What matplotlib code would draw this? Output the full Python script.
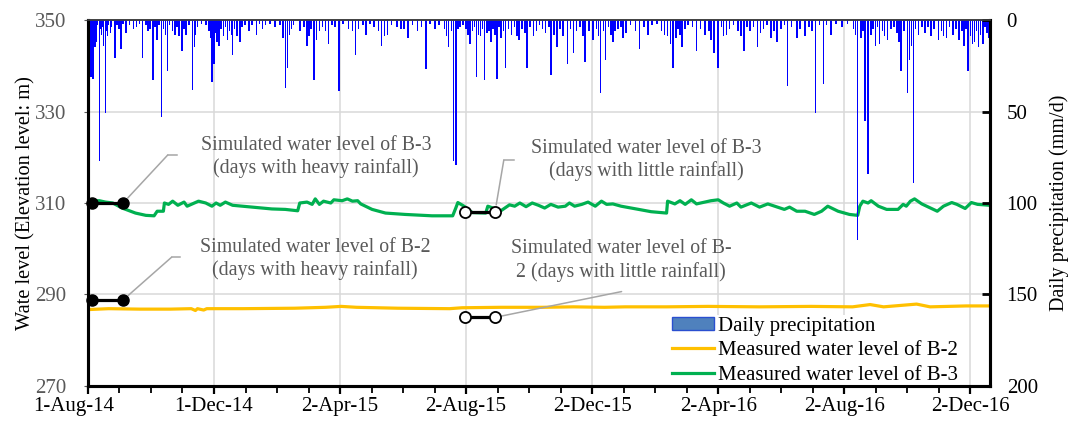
import matplotlib
matplotlib.use("Agg")
import matplotlib.pyplot as plt
import matplotlib.dates as mdates
from matplotlib.patches import Patch
from matplotlib.lines import Line2D
from matplotlib.ticker import FixedLocator, FuncFormatter
import pandas as pd

plt.rcParams["font.family"] = ["Liberation Serif", "DejaVu Serif"]

start = pd.Timestamp("2014-08-01")
n_days = 873  # x range in days from start

# daily precipitation (day after 1-Aug-14, mm/d) - larger events
rain_large = [
    (1, 65), (3, 31), (5, 32), (7, 15), (11, 77), (15, 14), (17, 51), (19, 9),
    (26, 21), (32, 16), (37, 7), (44, 5), (53, 21), (60, 5), (63, 33), (67, 11),
    (71, 53), (75, 8), (77, 28), (84, 8), (91, 17), (95, 8), (101, 38), (103, 15),
    (104, 8), (120, 34), (122, 24), (125, 12), (140, 19), (147, 12), (163, 8),
    (169, 5), (191, 37), (193, 26), (195, 8), (212, 14), (219, 33), (224, 6),
    (233, 13), (243, 39), (259, 19), (269, 8), (284, 14), (290, 8), (303, 5),
    (310, 10), (327, 27), (336, 5), (349, 15), (352, 6), (354, 77), (356, 79),
    (358, 5), (372, 6), (376, 31), (378, 8), (384, 33), (388, 6), (396, 32),
    (404, 26), (410, 8), (417, 11), (425, 26), (448, 30), (454, 15), (464, 24),
    (470, 18), (481, 23), (489, 11), (496, 40), (501, 22), (506, 8), (510, 6),
    (518, 10), (534, 16), (542, 8), (558, 8), (564, 13), (566, 26), (575, 15),
    (589, 17), (597, 8), (606, 18), (610, 26), (618, 8), (635, 17), (648, 15),
    (661, 10), (667, 12), (677, 36), (686, 10), (694, 9), (704, 51), (712, 35),
    (719, 8), (730, 4), (745, 120), (752, 55), (755, 84), (758, 8), (766, 13),
    (774, 11), (787, 28), (793, 40), (795, 22), (799, 89), (804, 8), (823, 11),
    (831, 10), (848, 14), (852, 28), (856, 13), (866, 13),
]

# daily precipitation - small events
rain_small = [
    (2, 6), (4, 9), (6, 4), (8, 12), (9, 3), (12, 5), (13, 8), (14, 4), (18, 6),
    (20, 3), (22, 7), (23, 4), (28, 3), (30, 5), (34, 2), (40, 3), (47, 4), (50, 2),
    (56, 3), (58, 6), (65, 4), (69, 3), (73, 5), (79, 3), (82, 6), (86, 4), (88, 9),
    (93, 5), (98, 3), (106, 4), (110, 2), (114, 3), (117, 6), (119, 10), (124, 7),
    (127, 14), (129, 5), (131, 9), (133, 4), (135, 11), (137, 6), (139, 8), (142, 5),
    (144, 9), (149, 4), (152, 3), (156, 6), (159, 3), (166, 2), (172, 3), (176, 2),
    (181, 4), (186, 3), (189, 10), (197, 5), (199, 3), (205, 6), (209, 4), (214, 9),
    (216, 5), (221, 11), (227, 4), (230, 6), (236, 3), (239, 4), (247, 2), (252, 5),
    (256, 6), (262, 5), (266, 3), (273, 2), (277, 4), (281, 6), (287, 9), (294, 3),
    (299, 4), (306, 5), (314, 3), (319, 6), (323, 4), (331, 2), (340, 3), (345, 5),
    (347, 9), (360, 4), (363, 3), (366, 5), (368, 8), (370, 13), (374, 4), (380, 9),
    (382, 5), (386, 7), (390, 12), (392, 5), (394, 8), (398, 4), (400, 10), (402, 6),
    (407, 5), (413, 4), (415, 9), (420, 5), (423, 7), (428, 4), (431, 9), (434, 6),
    (437, 3), (440, 5), (443, 7), (446, 4), (451, 8), (457, 5), (460, 9), (467, 5),
    (473, 6), (476, 4), (479, 9), (485, 6), (492, 5), (494, 9), (499, 6), (504, 4),
    (508, 12), (513, 5), (516, 4), (521, 7), (525, 3), (530, 6), (538, 4), (546, 3),
    (551, 2), (555, 6), (561, 9), (569, 10), (571, 5), (573, 8), (578, 5), (581, 3),
    (585, 4), (593, 5), (601, 6), (603, 11), (613, 4), (615, 9), (621, 5), (625, 3),
    (629, 6), (632, 9), (638, 4), (641, 6), (644, 4), (651, 7), (654, 5), (657, 3),
    (664, 6), (671, 5), (674, 3), (681, 4), (689, 5), (698, 4), (701, 6), (708, 3),
    (715, 3), (724, 2), (735, 2), (741, 5), (743, 8), (748, 10), (750, 6), (760, 5),
    (762, 14), (764, 4), (769, 6), (771, 9), (777, 5), (780, 4), (783, 7), (785, 12),
    (790, 6), (797, 14), (801, 5), (807, 4), (810, 7), (813, 4), (816, 9), (819, 5),
    (826, 6), (828, 9), (834, 4), (837, 8), (840, 5), (843, 11), (846, 6), (850, 5),
    (854, 9), (858, 12), (860, 6), (862, 15), (864, 8), (868, 4), (870, 7), (872, 10),
]

# measured water level of B-3 (day, m)
b3_level = [
    (0, 310.4), (11, 310.5), (17, 310.2), (24, 310.0), (33, 308.9), (46, 307.8),
    (56, 307.3), (64, 307.2), (67, 308.2), (73, 308.2), (74, 310.0), (78, 309.7),
    (82, 310.4), (87, 309.5), (93, 310.2), (96, 309.3), (103, 310.0), (107, 310.4),
    (114, 310.0), (120, 309.3), (124, 310.0), (128, 309.5), (133, 310.2),
    (140, 309.5), (159, 309.1), (178, 308.7), (191, 308.6), (203, 308.3),
    (205, 310.0), (212, 310.2), (217, 309.7), (220, 310.9), (224, 309.7),
    (228, 310.4), (235, 310.0), (238, 310.7), (246, 310.5), (251, 310.9),
    (256, 310.4), (261, 310.5), (264, 309.8), (275, 308.6), (288, 307.8),
    (307, 307.5), (333, 307.2), (353, 307.2), (356, 308.9), (358, 310.1),
    (364, 309.3), (372, 307.9), (385, 307.8), (387, 309.3), (392, 308.9),
    (399, 308.2), (408, 309.6), (413, 309.3), (418, 310.0), (424, 309.2),
    (430, 310.0), (436, 309.5), (442, 308.9), (448, 309.7), (455, 309.1),
    (462, 309.3), (466, 310.0), (471, 309.3), (478, 309.7), (484, 310.2),
    (491, 309.3), (497, 310.4), (502, 309.7), (508, 309.8), (516, 309.3),
    (533, 308.6), (545, 308.1), (560, 307.8), (561, 310.4), (568, 309.8),
    (573, 310.5), (578, 309.7), (584, 310.7), (589, 309.8), (597, 310.2),
    (603, 310.5), (610, 310.7), (615, 310.0), (621, 309.3), (628, 310.0),
    (632, 309.1), (642, 310.0), (650, 309.1), (658, 309.8), (674, 308.6),
    (679, 309.1), (686, 308.2), (694, 308.2), (703, 307.5), (710, 308.2),
    (716, 309.3), (726, 308.2), (737, 307.5), (745, 307.3), (747, 309.3),
    (750, 310.4), (755, 310.0), (758, 310.5), (765, 309.3), (773, 308.6),
    (784, 308.6), (789, 309.7), (792, 309.3), (796, 310.4), (800, 310.9),
    (807, 309.8), (822, 308.2), (828, 309.3), (836, 310.1), (841, 309.7),
    (849, 308.8), (855, 310.1), (861, 309.7), (873, 309.5),
]

# measured water level of B-2 (day, m)
b2_level = [
    (0, 286.7), (20, 286.9), (50, 286.8), (80, 286.8), (100, 286.9), (104, 286.5),
    (106, 286.9), (112, 286.6), (115, 286.9), (150, 286.9), (200, 287.0),
    (230, 287.2), (245, 287.4), (260, 287.2), (300, 287.0), (350, 286.9),
    (362, 287.1), (400, 287.2), (440, 287.2), (470, 287.3), (500, 287.2),
    (520, 287.3), (560, 287.3), (600, 287.4), (650, 287.3), (700, 287.4),
    (740, 287.3), (757, 287.8), (770, 287.3), (802, 287.9), (815, 287.3),
    (850, 287.5), (873, 287.5),
]

# simulated water levels (two days each)
sim_heavy_days = [4, 34]
sim_little_days = [365, 394]
sim_b3_heavy = 310.0
sim_b2_heavy = 288.8
sim_b3_little = 308.1
sim_b2_little = 285.0

x_ticks_days = [0, 122, 244, 366, 488, 610, 732, 854]
y_left_ticks = [270, 290, 310, 330, 350]
y_right_ticks = [0, 50, 100, 150, 200]


def day_num(days):
    return mdates.date2num([start + pd.Timedelta(days=d) for d in days])


def date_label(v):
    t = mdates.num2date(v)
    return f"{t.day}-{t.strftime('%b-%y')}"


fig = plt.figure(figsize=(10.7, 4.23), dpi=100)
ax = fig.add_axes([0.0822, 0.0875, 0.843, 0.8652])
ax2 = ax.twinx()

gray_txt = "#595959"
lead_col = "#a6a6a6"

# precipitation bars
for events in (rain_large, rain_small):
    d, v = zip(*events)
    ax2.bar(day_num(d), v, width=1.5, color="#0000ff", linewidth=0, align="center")
ax2.set_ylim(200, 0)
ax2.set_yticks(y_right_ticks)
ax2.tick_params(axis="y", direction="in", length=6, width=2, labelsize=15,
                colors="black", pad=12)
ax2.set_ylabel("Daily precipitation (mm/d)", fontsize=14.5)
ax2.yaxis.set_label_coords(1.066, 0.5)

# measured levels
d, v = zip(*b2_level)
ax.plot(day_num(d), v, color="#ffc000", lw=2.3)
d, v = zip(*b3_level)
ax.plot(day_num(d), v, color="#00b050", lw=2.3)

# simulated levels
hx = day_num(sim_heavy_days)
lx = day_num(sim_little_days)
for lvl in (sim_b3_heavy, sim_b2_heavy):
    ax.plot(hx, [lvl, lvl], color="black", lw=2.3, marker="o", ms=8,
            mfc="black", mec="black", clip_on=False, zorder=5)
for lvl in (sim_b3_little, sim_b2_little):
    ax.plot(lx, [lvl, lvl], color="black", lw=2.3, marker="o", ms=8,
            mfc="white", mec="black", mew=1.3, zorder=5)

ax.set_xlim(day_num([0])[0], day_num([n_days])[0])
ax.set_ylim(270, 350)
ax.set_yticks(y_left_ticks)
ax.tick_params(axis="y", direction="out", length=3, color=gray_txt,
               labelsize=15, labelcolor=gray_txt, pad=35)
for lab in ax.get_yticklabels():
    lab.set_horizontalalignment("left")
ax.set_ylabel("Wate level (Elevation level: m)", fontsize=14.7)
ax.yaxis.set_label_coords(-0.0586, 0.5)

xt = day_num(x_ticks_days)
ax.xaxis.set_major_locator(FixedLocator(xt))
minor_days = [k * 30.5 for k in range(0, 29)]
ax.xaxis.set_minor_locator(FixedLocator(day_num(minor_days)))
# first label sits a little left of its tick, as in the source chart
ax.xaxis.set_major_formatter(FuncFormatter(
    lambda v, p: "" if abs(v - xt[0]) < 0.5 else date_label(v)))
ax.annotate(date_label(xt[0]), xy=(0, 0), xycoords="axes fraction",
            xytext=(-10, -8), textcoords="offset points", ha="center", va="top",
            fontsize=15)
ax.tick_params(axis="x", which="major", direction="out", length=6, width=1.6,
               labelsize=15, labelcolor="black", pad=2)
ax.tick_params(axis="x", which="minor", direction="out", length=5, width=1.3)

ax.grid(True, which="major", color="#d9d9d9", lw=1.1)
ax.set_axisbelow(True)

for a in (ax, ax2):
    a.spines["left"].set_linewidth(2.2)
    a.spines["right"].set_linewidth(2.2)
    a.spines["bottom"].set_linewidth(2.2)
    a.spines["top"].set_linewidth(1.2)
    a.spines["top"].set_color("#404040")

# annotations
txt_kw = dict(transform=ax.transAxes, ha="center", va="center", color=gray_txt,
              fontsize=14.3, linespacing=1.25)
ax.text(0.253, 0.626, "Simulated water level of B-3\n(days with heavy rainfall)", **txt_kw)
ax.text(0.619, 0.617, "Simulated water level of B-3\n(days with little rainfall)", **txt_kw)
ax.text(0.252, 0.347, "Simulated water level of B-2\n(days with heavy rainfall)", **txt_kw)
ax.text(0.591, 0.343, "Simulated water level of B-\n2 (days with little rainfall)", **txt_kw)

leaders = [
    ((hx[1], sim_b3_heavy), (0.0884, 0.631), 0.0983),
    ((lx[1], sim_b3_little), (0.461, 0.617), 0.472),
    ((hx[1], sim_b2_heavy), (0.0928, 0.352), 0.102),
    ((lx[1], sim_b2_little), (0.5916, 0.258), None),
]
for xy, elbow, end in leaders:
    ax.annotate("", xy=xy, xycoords="data", xytext=elbow, textcoords="axes fraction",
                arrowprops=dict(arrowstyle="-", color=lead_col, lw=1.1,
                                shrinkA=0, shrinkB=5))
    if end is not None:
        ax.plot([elbow[0], end], [elbow[1], elbow[1]], transform=ax.transAxes,
                color=lead_col, lw=1.1)

handles = [
    Patch(facecolor="#4f81bd", edgecolor="#2a4fd0", lw=1),
    Line2D([], [], color="#ffc000", lw=2.3),
    Line2D([], [], color="#00b050", lw=2.3),
]
labels = ["Daily precipitation", "Measured water level of B-2",
          "Measured water level of B-3"]
leg = ax2.legend(handles, labels, loc="lower left", bbox_to_anchor=(0.6455, -0.003),
                 fontsize=15, frameon=True, facecolor="white", edgecolor="none",
                 framealpha=1, fancybox=False, handlelength=2.0, handleheight=0.6,
                 handletextpad=0.2, labelspacing=0.27, borderpad=0.1,
                 borderaxespad=0)
leg.set_zorder(2.4)  # keep the axis spines drawn over the legend box

fig.savefig("out.png", dpi=100)
